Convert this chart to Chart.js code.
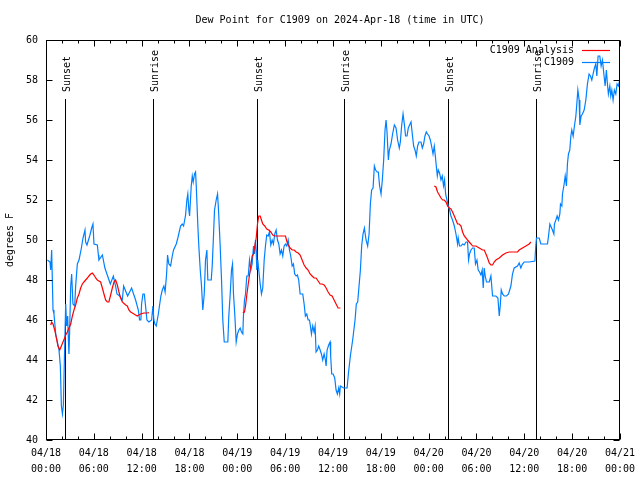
<!DOCTYPE html>
<html>
<head>
<meta charset="utf-8">
<script src="https://cdn.jsdelivr.net/npm/chart.js@4.4.1/dist/chart.umd.min.js"></script>
<style>
html,body{margin:0;padding:0;background:#fff;}
canvas{display:block;}
</style>
</head>
<body>
<canvas id="c" width="640" height="480"></canvas>
<script>
// ---- data (hours since 2024-04-18 00:00 UTC, dew point in degrees F) ----
const chartTitle = 'Dew Point for C1909 on 2024-Apr-18 (time in UTC)';
const yAxisTitle = 'degrees F';
const seriesNames = ['C1909 Analysis', 'C1909'];
const xTickHours = [0, 6, 12, 18, 24, 30, 36, 42, 48, 54, 60, 66, 72];
const xTickLabels = [
  ['04/18','00:00'],['04/18','06:00'],['04/18','12:00'],['04/18','18:00'],
  ['04/19','00:00'],['04/19','06:00'],['04/19','12:00'],['04/19','18:00'],
  ['04/20','00:00'],['04/20','06:00'],['04/20','12:00'],['04/20','18:00'],
  ['04/21','00:00']
];
const eventHours = [2.34, 13.41, 26.44, 37.34, 50.46, 61.45];
const eventLabels = ['Sunset', 'Sunrise', 'Sunset', 'Sunrise', 'Sunset', 'Sunrise'];

const obsHours = [
  0.18,0.50,0.59,0.71,0.88,1.00,1.22,1.43,1.63,1.80,
  1.93,2.06,2.18,2.26,2.37,2.47,2.59,2.72,2.81,2.88,
  2.97,3.10,3.22,3.38,3.60,3.72,3.93,4.14,4.44,4.64,
  4.89,4.97,5.14,5.48,5.73,5.89,6.02,6.44,6.57,6.64,
  7.07,7.39,7.73,8.07,8.45,8.73,8.90,9.24,9.57,9.74,
  10.24,10.74,11.24,11.58,11.74,11.90,11.99,12.16,12.33,12.49,
  12.66,12.91,13.25,13.41,13.53,13.66,13.83,14.09,14.41,14.59,
  14.79,14.94,15.13,15.25,15.41,15.63,15.84,16.00,16.34,16.54,
  16.88,17.09,17.26,17.51,17.67,17.79,17.92,18.01,18.22,18.35,
  18.47,18.63,18.76,18.85,19.05,19.17,19.35,19.51,19.67,19.85,
  20.01,20.18,20.30,20.73,20.85,21.02,21.14,21.35,21.52,21.64,
  21.85,22.02,22.18,22.36,22.81,22.93,23.11,23.27,23.40,23.52,
  23.68,23.86,24.02,24.19,24.36,24.52,24.69,24.77,24.90,25.03,
  25.19,25.37,25.53,25.69,25.86,26.03,26.15,26.28,26.37,26.44,
  26.57,26.69,26.87,27.03,27.19,27.37,27.53,27.69,27.87,28.03,
  28.20,28.37,28.53,28.70,28.87,29.04,29.20,29.37,29.54,29.70,
  29.87,30.04,30.20,30.38,30.54,30.70,30.88,31.04,31.20,31.38,
  31.54,31.70,31.88,32.21,32.38,32.54,32.71,32.88,33.05,33.17,
  33.30,33.46,33.63,33.76,33.88,34.05,34.21,34.39,34.55,34.71,
  34.89,35.05,35.14,35.26,35.46,35.64,35.71,35.84,36.02,36.22,
  36.39,36.55,36.72,36.84,36.93,37.34,37.77,37.93,38.18,38.47,
  38.77,38.93,39.10,39.27,39.44,39.60,39.77,39.94,40.15,40.35,
  40.53,40.69,40.85,41.03,41.19,41.35,41.53,41.69,41.85,42.03,
  42.19,42.36,42.53,42.66,42.78,42.95,43.07,43.28,43.48,43.70,
  43.91,44.11,44.32,44.45,44.61,44.79,44.95,45.11,45.29,45.45,
  45.61,45.79,45.95,46.12,46.29,46.45,46.62,46.79,47.04,47.21,
  47.37,47.54,47.71,47.87,48.05,48.21,48.37,48.55,48.71,48.84,
  48.96,49.09,49.21,49.37,49.55,49.71,49.87,50.00,50.13,50.30,
  50.46,50.63,50.80,51.00,51.22,51.43,51.63,51.71,51.88,52.06,
  52.26,52.47,52.68,52.88,53.01,53.13,53.31,53.51,53.72,53.88,
  54.06,54.22,54.39,54.56,54.72,54.85,54.97,55.10,55.26,55.60,
  55.81,56.02,56.44,56.69,56.86,56.98,57.11,57.27,57.48,57.77,
  58.02,58.32,58.52,58.73,59.15,59.36,59.57,59.77,59.99,60.61,
  61.33,61.45,61.53,61.87,62.08,62.91,63.04,63.21,63.53,63.71,
  63.78,63.96,64.12,64.29,64.46,64.54,64.71,64.79,65.00,65.13,
  65.29,65.41,65.54,65.71,65.84,65.96,66.13,66.29,66.47,66.59,
  66.72,66.88,66.97,67.13,67.29,67.51,67.72,67.92,68.13,68.30,
  68.47,68.63,68.80,68.97,69.10,69.26,69.47,69.64,69.80,70.01,
  70.14,70.30,70.43,70.55,70.73,70.85,70.98,71.14,71.30,71.48,
  71.64,71.80,71.98
];
const obsDewF = [
  49.0,48.9,48.5,49.5,46.5,46.3,45.3,44.9,44.5,43.7,
  41.7,41.3,41.75,43.2,43.2,46.8,45.7,46.2,45.0,44.3,
  45.5,47.7,48.3,46.8,46.7,47.7,48.8,49.0,49.6,50.1,
  50.5,49.9,49.75,50.2,50.6,50.8,49.8,49.75,49.25,49.0,
  49.25,48.6,48.2,47.8,48.2,47.7,47.3,47.2,47.0,47.7,
  47.2,47.6,47.0,46.5,46.0,46.0,46.8,47.3,47.3,46.7,
  46.0,45.9,46.0,46.7,46.0,45.8,45.7,46.3,47.2,47.5,
  47.7,47.4,48.3,49.25,48.8,48.7,49.2,49.5,49.8,50.1,
  50.7,50.8,50.7,51.25,52.0,52.3,51.5,51.2,52.7,53.2,
  52.9,53.3,53.4,52.7,50.7,49.7,48.5,47.7,46.5,47.3,
  49.0,49.5,48.0,48.0,48.7,50.3,51.5,52.0,52.3,51.5,
  49.7,48.0,46.0,44.9,44.9,46.2,47.3,48.5,48.8,47.3,
  46.3,44.9,45.3,45.5,45.6,45.4,45.3,46.2,47.0,47.3,
  48.2,48.2,49.0,48.5,48.8,49.7,49.3,50.0,49.5,48.5,
  49.0,48.5,47.8,47.3,47.6,49.0,49.7,50.25,50.2,50.4,
  49.75,50.0,49.8,50.3,50.5,50.0,49.8,49.3,49.5,49.2,
  49.7,49.8,49.7,50.0,49.5,49.2,48.7,48.8,48.3,48.2,
  48.25,48.0,47.3,47.3,46.8,46.2,46.3,46.0,46.0,45.7,
  45.3,45.7,45.4,45.7,44.4,44.5,44.7,44.5,44.3,44.0,
  44.3,44.0,43.7,44.5,44.75,44.9,44.2,43.3,43.3,43.1,
  42.5,42.3,42.6,42.3,42.7,42.6,42.6,43.3,44.2,45.0,
  46.0,46.8,46.9,47.7,48.5,49.7,50.3,50.6,50.0,49.7,
  50.3,51.8,52.5,52.6,53.7,53.5,53.4,53.4,52.7,52.3,
  53.0,54.0,55.5,56.0,55.4,54.0,54.5,54.8,55.3,55.75,
  55.6,55.0,54.6,54.9,55.7,56.3,55.8,55.2,55.2,55.6,
  55.75,55.9,55.3,54.7,54.5,54.2,54.7,54.9,54.9,54.6,
  54.8,55.2,55.4,55.3,55.2,55.0,54.7,54.3,54.7,54.2,
  53.7,53.2,53.5,53.35,53.0,53.2,52.7,53.0,52.3,52.0,
  51.7,51.5,51.2,51.0,50.7,50.3,49.8,50.1,49.7,49.7,
  49.8,49.75,49.9,49.9,49.0,49.3,49.5,49.6,49.6,48.8,
  49.0,48.5,48.4,48.25,48.5,47.6,48.6,48.2,47.9,47.9,
  48.2,47.2,47.2,47.1,46.2,46.7,47.5,47.3,47.2,47.2,
  47.3,47.7,48.3,48.6,48.7,48.85,48.6,48.8,48.9,48.9,
  48.95,49.75,50.1,50.1,49.8,49.8,50.2,50.8,50.5,50.3,
  50.8,51.0,51.2,51.0,51.3,51.8,51.7,52.3,52.8,53.2,
  52.7,53.8,54.3,54.5,55.2,55.5,55.2,55.7,56.2,56.8,
  57.5,57.0,55.75,56.2,56.3,56.5,57.0,57.8,58.3,58.2,
  58.0,58.3,58.6,58.8,58.2,59.2,59.2,58.7,59.0,58.2,
  57.7,58.5,57.8,57.3,57.7,57.2,57.5,57.0,57.5,57.3,
  57.8,57.7,58.0
];

const ana1Hours = [0.59,0.71,0.88,1.09,1.30,1.50,1.72,1.93,2.13,2.34,2.47,2.68,2.88,3.10,3.31,3.51,3.72,3.93,4.14,4.35,4.56,4.76,4.97,5.19,5.39,5.60,5.81,6.02,6.23,6.44,6.64,6.85,7.07,7.27,7.48,7.69,7.89,8.11,8.32,8.52,8.73,8.95,9.15,9.36,9.57,9.99,10.20,10.40,10.61,10.83,11.03,11.24,11.45,11.65,11.87,12.28,12.71,12.91];
const ana1DewF  = [45.75,45.9,45.8,45.5,45.1,44.7,44.5,44.7,44.9,45.1,45.25,45.4,45.6,45.8,46.2,46.5,46.75,47.1,47.3,47.6,47.8,47.9,48.0,48.1,48.2,48.3,48.35,48.25,48.1,48.0,47.95,47.9,47.6,47.3,47.0,46.9,46.9,47.25,47.6,47.9,48.0,47.75,47.4,47.1,46.9,46.75,46.7,46.5,46.4,46.35,46.3,46.25,46.2,46.25,46.3,46.35,46.35,46.37];
const ana2Hours = [24.69,24.90,25.03,25.19,25.37,25.53,25.69,25.86,26.03,26.19,26.37,26.53,26.69,26.87,27.03,27.19,27.44,27.69,27.94,28.20,28.45,28.70,30.04,30.20,30.38,30.63,30.88,31.13,31.38,31.63,31.88,32.13,32.38,32.63,32.88,33.13,33.38,33.63,33.88,34.14,34.39,34.64,34.89,35.14,35.39,35.64,35.89,36.14,36.39,36.64,36.93];
const ana2DewF  = [46.37,46.4,46.7,47.25,47.8,48.25,48.7,49.2,49.3,49.7,50.1,50.8,51.2,51.2,51.0,50.8,50.7,50.55,50.5,50.4,50.25,50.2,50.2,49.95,49.75,49.6,49.5,49.5,49.4,49.35,49.25,49.0,48.75,48.6,48.5,48.3,48.2,48.1,48.1,47.95,47.8,47.8,47.75,47.6,47.4,47.25,47.2,47.0,46.8,46.6,46.6];
const ana3Hours = [48.71,48.92,49.12,49.34,49.55,49.75,49.96,50.18,50.38,50.59,50.80,51.00,51.22,51.43,51.63,51.84,52.06,52.26,52.47,52.68,52.88,53.09,53.31,53.51,53.93,54.35,54.76,54.97,55.19,55.39,55.60,55.81,56.02,56.22,56.44,56.86,57.27,57.69,58.11,59.15,59.36,59.77,60.20,60.61,60.83];
const ana3DewF  = [52.7,52.65,52.4,52.25,52.1,52.0,52.0,51.9,51.7,51.6,51.55,51.4,51.2,51.0,50.8,50.8,50.7,50.4,50.2,50.1,50.0,49.9,49.8,49.7,49.7,49.6,49.5,49.5,49.3,49.1,48.85,48.75,48.75,48.9,49.0,49.1,49.25,49.35,49.4,49.4,49.5,49.6,49.7,49.8,49.9];

// ---- build datasets ----
function pts(hs, vs){ return hs.map((h,i)=>({x:h, y:vs[i]})); }
const anaData = [].concat(
  pts(ana1Hours, ana1DewF), [{x:18, y:null}],
  pts(ana2Hours, ana2DewF), [{x:42.5, y:null}],
  pts(ana3Hours, ana3DewF)
);
const obsData = pts(obsHours, obsDewF);

const FONT = 'DejaVu Sans Mono';
const RED = '#ff0000';
const BLUE = '#0080ff';

const decoPlugin = {
  id: 'deco',
  beforeDatasetsDraw(chart){
    const ctx = chart.ctx, xs = chart.scales.x, a = chart.chartArea;
    ctx.save();
    ctx.strokeStyle = '#000';
    ctx.lineWidth = 1;
    ctx.fillStyle = '#000';
    ctx.font = '10px "' + FONT + '"';
    eventHours.forEach((h, i) => {
      const px = Math.round(xs.getPixelForValue(h)) + 0.5;
      ctx.beginPath();
      ctx.moveTo(px, 99);
      ctx.lineTo(px, a.bottom);
      ctx.stroke();
      ctx.save();
      ctx.translate(px + 1.5, 92);
      ctx.rotate(-Math.PI/2);
      ctx.textAlign = 'left';
      ctx.textBaseline = 'middle';
      ctx.fillText(eventLabels[i], 0, 0);
      ctx.restore();
    });
    ctx.restore();
  },
  afterDatasetsDraw(chart){
    const ctx = chart.ctx, xs = chart.scales.x, ys = chart.scales.y, a = chart.chartArea;
    ctx.save();
    ctx.strokeStyle = '#000';
    ctx.lineWidth = 1;
    // border box
    const L = Math.round(a.left)+0.5, R = Math.round(a.right)-0.5, T = Math.round(a.top)+0.5, B = Math.round(a.bottom)-0.5;
    ctx.strokeRect(L, T, R-L, B-T);
    // x ticks (inward, top and bottom), minor every 2h
    ctx.beginPath();
    for (let h = 0; h <= 72; h += 2){
      const px = Math.round(xs.getPixelForValue(h)) + 0.5;
      const len = (h % 6 === 0) ? 6 : 3;
      ctx.moveTo(px, B); ctx.lineTo(px, B - len);
      ctx.moveTo(px, T); ctx.lineTo(px, T + len);
    }
    for (let v = 40; v <= 60; v += 2){
      const py = Math.round(ys.getPixelForValue(v)) + 0.5;
      ctx.moveTo(L, py); ctx.lineTo(L + 6, py);
      ctx.moveTo(R, py); ctx.lineTo(R - 6, py);
    }
    ctx.stroke();
    // title
    ctx.fillStyle = '#000';
    ctx.font = '10px "' + FONT + '"';
    ctx.textAlign = 'center';
    ctx.textBaseline = 'middle';
    ctx.fillText(chartTitle, 340, 20);
    // y title
    ctx.save();
    ctx.translate(10, 240);
    ctx.rotate(-Math.PI/2);
    ctx.fillText(yAxisTitle, 0, 0);
    ctx.restore();
    // legend
    const colors = [RED, BLUE];
    seriesNames.forEach((name, i) => {
      const yy = 50 + i * 12;
      ctx.fillStyle = '#000';
      ctx.textAlign = 'right';
      ctx.textBaseline = 'middle';
      ctx.fillText(name, 574, yy);
      ctx.strokeStyle = colors[i];
      ctx.lineWidth = 1.2;
      ctx.beginPath();
      ctx.moveTo(582, yy + 0.5);
      ctx.lineTo(610, yy + 0.5);
      ctx.stroke();
    });
    ctx.restore();
  }
};

new Chart(document.getElementById('c'), {
  type: 'line',
  data: {
    datasets: [
      { label: seriesNames[0], data: anaData, borderColor: RED, borderWidth: 1.2, pointRadius: 0, tension: 0, spanGaps: false, fill: false },
      { label: seriesNames[1], data: obsData, borderColor: BLUE, borderWidth: 1.2, pointRadius: 0, tension: 0, fill: false }
    ]
  },
  options: {
    responsive: false,
    animation: false,
    devicePixelRatio: 1,
    parsing: true,
    layout: { padding: { top: 40, right: 19, left: 0, bottom: 0 } },
    plugins: { legend: { display: false }, title: { display: false }, tooltip: { enabled: false } },
    scales: {
      x: {
        type: 'linear', min: 0, max: 72,
        afterBuildTicks: s => { s.ticks = xTickHours.map(v => ({ value: v })); },
        afterFit: s => { s.height = 40; },
        grid: { display: false, drawTicks: false },
        border: { display: false },
        ticks: {
          autoSkip: false, maxRotation: 0, minRotation: 0, padding: 5,
          color: '#000', font: { family: FONT, size: 10, lineHeight: 1.6 },
          callback: (v, i) => xTickLabels[i]
        }
      },
      y: {
        min: 40, max: 60,
        afterFit: s => { s.width = 46; },
        grid: { display: false, drawTicks: false },
        border: { display: false },
        ticks: { stepSize: 2, padding: 8, color: '#000', font: { family: FONT, size: 10 } }
      }
    }
  },
  plugins: [decoPlugin]
});
</script>
</body>
</html>
